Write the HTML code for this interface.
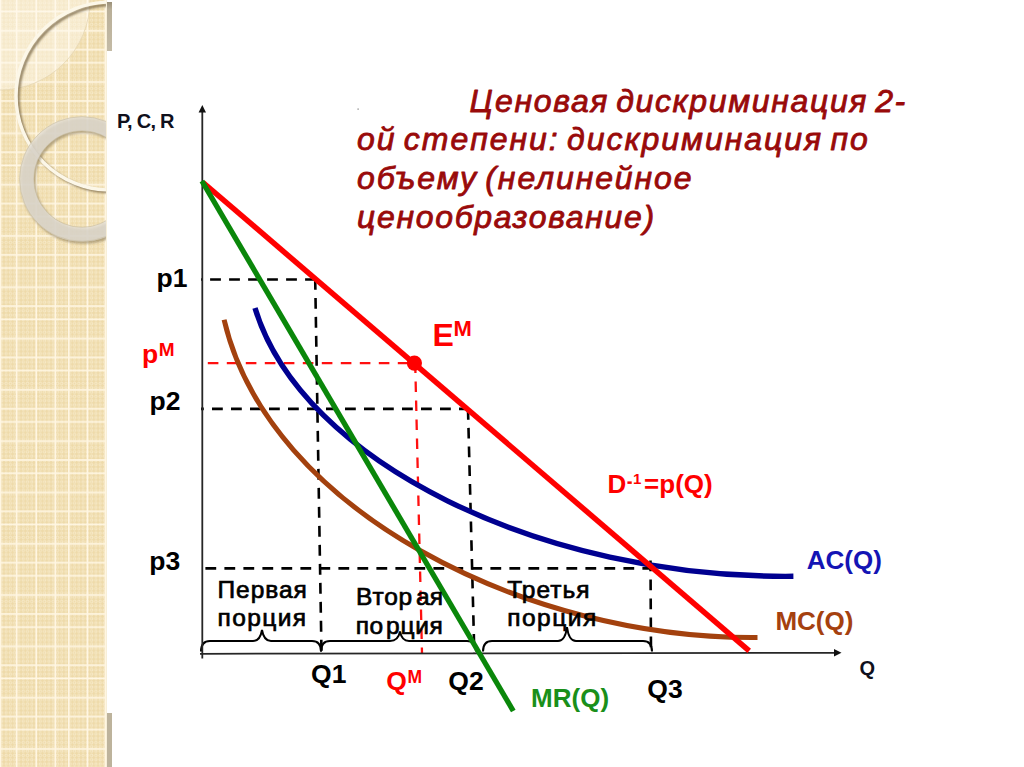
<!DOCTYPE html>
<html>
<head>
<meta charset="utf-8">
<style>
html,body{margin:0;padding:0;}
body{width:1024px;height:767px;overflow:hidden;background:#fff;position:relative;font-family:"Liberation Sans",sans-serif;}
svg{position:absolute;left:0;top:0;}
</style>
</head>
<body>
<svg width="1024" height="767" viewBox="0 0 1024 767">
  <!-- left decorative panel -->
  <defs>
    <clipPath id="pc"><rect x="0" y="0" width="106" height="767"/></clipPath>
    <pattern id="dots" patternUnits="userSpaceOnUse" x="4" y="-1.7" width="4.275" height="4.275">
      <rect width="4.275" height="4.275" fill="#eedaa9"/>
      <circle cx="2.14" cy="2.14" r="1.25" fill="none" stroke="#f8ebcb" stroke-width="0.9"/>
    </pattern>
    <pattern id="grid" patternUnits="userSpaceOnUse" x="0" y="-1.7" width="106" height="51.3">
      <rect width="106" height="51.3" fill="url(#dots)"/>
      <g fill="#fff6e2">
        <rect y="-0.8" x="0" height="1.6" width="106"/>
        <rect y="12.4" x="0" height="1.6" width="106"/>
        <rect y="31.7" x="0" height="1.6" width="106"/>
        <rect y="50.5" x="0" height="1.6" width="106"/>
      </g>
    </pattern>
    <filter id="blur1" x="-20%" y="-20%" width="140%" height="140%"><feGaussianBlur stdDeviation="1.2"/></filter>
  </defs>
  <rect x="0" y="0" width="106" height="767" fill="url(#grid)"/>
  <g fill="#fff6e2">
    <rect x="0" y="0" width="1.3" height="767"/>
    <rect x="15.9" y="0" width="1.6" height="767"/>
    <rect x="35.5" y="0" width="1.6" height="767"/>
    <rect x="54.5" y="0" width="1.6" height="767"/>
    <rect x="68" y="0" width="1.6" height="767"/>
    <rect x="86.7" y="0" width="1.6" height="767"/>
    <rect x="104.6" y="0" width="1.4" height="767"/>
  </g>
  <g clip-path="url(#pc)">
    <circle cx="0" cy="0" r="90" fill="#fffbf2" opacity="0.45"/>
    <circle cx="0" cy="0" r="90" fill="none" stroke="#e6d7b4" stroke-width="0.8"/>
    <!-- thin ring with drop shadow -->
    <circle cx="111.8" cy="98.3" r="93.5" fill="none" stroke="#6e5c3a" stroke-width="3" opacity="0.75" filter="url(#blur1)"/>
    <circle cx="110" cy="96" r="94" fill="none" stroke="#fcf7e8" stroke-width="3.4"/>
    <!-- gray ring with drop shadow -->
    <circle cx="83.5" cy="181" r="55.3" fill="none" stroke="#7a6a48" stroke-width="15" opacity="0.5" filter="url(#blur1)"/>
    <circle cx="82" cy="179" r="55.3" fill="none" stroke="#e4e0d8" stroke-width="14.5" opacity="0.78"/>
    <circle cx="82" cy="179" r="62.3" fill="none" stroke="#c8bb9c" stroke-width="0.8" opacity="0.7"/>
    <circle cx="82" cy="179" r="48.3" fill="none" stroke="#c8bb9c" stroke-width="0.8" opacity="0.7"/>
  </g>
  <rect x="106" y="0" width="1" height="767" fill="#f7efd9"/>
  <defs><linearGradient id="barg" x1="0" y1="0" x2="0" y2="1"><stop offset="0" stop-color="#9a8f78"/><stop offset="0.15" stop-color="#b9af98"/><stop offset="1" stop-color="#c4bba6"/></linearGradient></defs>
  <rect x="107" y="2" width="5" height="49" fill="url(#barg)"/>
  <rect x="107" y="713" width="5" height="54" fill="#bdb39c"/>

  <!-- title -->
  <g font-family="Liberation Sans" font-weight="normal" font-style="italic" font-size="32" fill="#990a0a" stroke="#990a0a" stroke-width="0.85" stroke-linejoin="round">
    <text x="469.5" y="111.5" letter-spacing="1.65" word-spacing="-3.5">Ценовая дискриминация 2-</text>
    <text x="357" y="149.5" letter-spacing="1.96" word-spacing="-3.5">ой степени: дискриминация по</text>
    <text x="357" y="189" letter-spacing="1.9" word-spacing="-3.5">объему (нелинейное</text>
    <text x="357" y="227.7" letter-spacing="1.67">ценообразование)</text>
  </g>
  <rect x="357.5" y="108.5" width="1.2" height="1.2" fill="#777"/>

  <!-- dashed guide lines -->
  <g stroke="#000" stroke-width="2.6" stroke-dasharray="10.8 8.2" fill="none">
    <line x1="201" y1="279.5" x2="315.5" y2="279.5" stroke-dashoffset="9.9"/>
    <line x1="201" y1="408.9" x2="467.5" y2="408.9" stroke-dashoffset="8"/>
    <line x1="201" y1="568.4" x2="650.5" y2="568.4" stroke-dashoffset="14.6"/>
    <line x1="315.2" y1="278.9" x2="321.5" y2="653"/>
    <line x1="468" y1="409.1" x2="474.3" y2="653" stroke-dasharray="10.6 8.15"/>
    <line x1="650.5" y1="560.5" x2="651" y2="653"/>
  </g>
  <g stroke="#ff1010" stroke-width="2.3" stroke-dasharray="10.6 8.4" fill="none">
    <line x1="201" y1="363.2" x2="412" y2="363.2" stroke-dashoffset="12.2"/>
    <line x1="415.2" y1="362.5" x2="422" y2="653"/>
  </g>

  <!-- braces -->
  <g stroke="#000" stroke-width="2" fill="none">
    <path d="M201,651.5 C201,645 203,641 210,641 L253,641 C258,641 261,636 262,630 C263,636 266,641 271,641 L312,641 C319,641 321,645 321,651.5"/>
    <path d="M321,651.5 C321,645 323,641 330,641 L390,641 C396,641 399,637 400,631.4 C401,637 404,641 409,641 L467,641 C474,641 476,645 476,651.5"/>
    <path d="M483,651.5 C483,645 485,641 492,641 L558,641 C563,641 566,635 567,627 C568,635 571,641 576,641 L643,641 C650,641 652,645 652,651.5"/>
  </g>

  <!-- axes -->
  <g stroke="#262626" stroke-width="1.8" fill="none">
    <line x1="202.3" y1="110" x2="202.3" y2="658.5"/>
    <line x1="200" y1="653.8" x2="835" y2="652.8"/>
  </g>
  <path d="M198.6,112.5 L206,112.5 L202.3,105 Z" fill="#111"/>
  <path d="M834,649.1 L834,656.5 L841.5,652.8 Z" fill="#111"/>

  <!-- curves -->
  <path d="M255.0,308.0 C301.4,461.9 542.1,578.8 793.4,576.3" stroke="#000090" stroke-width="5.4" fill="none"/>
  <path d="M224.1,319.8 C268.4,510.2 525.8,639.5 757.5,637.5" stroke="#a3410e" stroke-width="5" fill="none"/>
  <line x1="203" y1="182.5" x2="749.2" y2="650.8" stroke="#ff0000" stroke-width="5.5"/>
  <line x1="201.9" y1="181" x2="513.3" y2="711" stroke="#0a870a" stroke-width="5.3"/>
  <circle cx="414.4" cy="363.1" r="7.6" fill="#ff0000"/>

  <!-- labels -->
  <g font-family="Liberation Sans">
    <text x="116.9" y="127.6" font-size="20" font-weight="bold" letter-spacing="-0.7" fill="#10101c">P, C, R</text>
    <g font-weight="bold" font-size="26.5" fill="#000">
      <text x="156.5" y="286.6">p1</text>
      <text x="149.5" y="409.7">p2</text>
      <text x="149.3" y="569.7">p3</text>
      <text x="311.1" y="683">Q1</text>
      <text x="448.3" y="690.4">Q2</text>
      <text x="647.3" y="698">Q3</text>
    </g>
    <g font-weight="bold" fill="#ff0000">
      <text x="142" y="363.4" font-size="26.5">p</text>
      <text x="158.7" y="356.3" font-size="19">M</text>
      <text x="386.3" y="690.2" font-size="26.5">Q</text>
      <text x="407.5" y="683.1" font-size="17.5">M</text>
      <text x="607.4" y="493.1" font-size="26">D</text>
      <rect x="627.4" y="481.4" width="4.3" height="2.5"/>
      <text x="633" y="484.4" font-size="15">1</text>
      <text x="644.1" y="493.1" font-size="26">=p(Q)</text>
    </g>
    <text x="432.5" y="345.9" font-size="32" font-weight="bold" fill="#ff0000">E</text>
    <text x="453.5" y="335.8" font-size="22" font-weight="bold" fill="#ff0000">M</text>
    <text x="806.8" y="569.1" font-weight="bold" font-size="26" fill="#1414b4">AC(Q)</text>
    <text x="775.4" y="630.4" font-weight="bold" font-size="26" fill="#a5410f">MC(Q)</text>
    <text x="531.1" y="707" font-weight="bold" font-size="26" fill="#1a8f1a">MR(Q)</text>
    <text x="859.5" y="675" font-size="20" font-weight="bold" fill="#10101c">Q</text>
    <g font-size="24.5" fill="#000" stroke="#000" stroke-width="0.7" letter-spacing="1">
      <text x="217.4" y="597.9">Первая</text>
      <text x="217.5" y="625.9" letter-spacing="1.4">порция</text>
      <text x="356.1" y="604.7" letter-spacing="0.8">Втор</text>
      <text x="416.1" y="604.7" letter-spacing="0">ая</text>
      <text x="355.7" y="634.2" letter-spacing="0.5">по</text>
      <text x="386.1" y="634.2" letter-spacing="0.7">рция</text>
      <text x="507.2" y="597.7">Третья</text>
      <text x="507.2" y="625.6" letter-spacing="1.5">порция</text>
    </g>
  </g>
</svg>
</body>
</html>
